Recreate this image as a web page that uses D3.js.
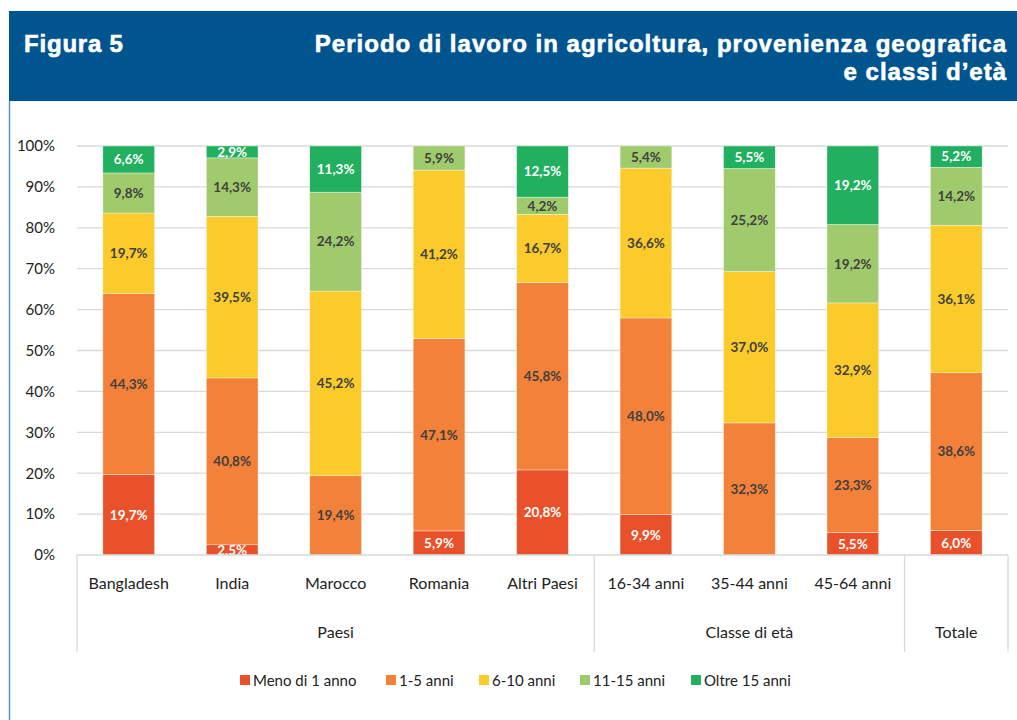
<!DOCTYPE html>
<html>
<head>
<meta charset="utf-8">
<script src="https://cdn.jsdelivr.net/npm/d3@7"></script>
<style>
  body { margin: 0; background: #fff; }
  svg { display: block; }
</style>
</head>
<body>
<div id="chart"></div>
<script>
// Categories and grouping on the x axis
var categories = ["Bangladesh", "India", "Marocco", "Romania", "Altri Paesi",
                  "16-34 anni", "35-44 anni", "45-64 anni", "Totale"];
var groups = [
  {name: "Paesi", from: 0, to: 4},
  {name: "Classe di età", from: 5, to: 7},
  {name: "Totale", from: 8, to: 8}
];
var categoryLabels = ["Bangladesh", "India", "Marocco", "Romania", "Altri Paesi",
                      "16-34 anni", "35-44 anni", "45-64 anni", ""];

// Series (percent values, one per category)
var seriesNames = ["Meno di 1 anno", "1-5 anni", "6-10 anni", "11-15 anni", "Oltre 15 anni"];
var menoDi1 = [19.7, 2.5, 0, 5.9, 20.8, 9.9, 0, 5.5, 6.0];
var anni1_5 = [44.3, 40.8, 19.4, 47.1, 45.8, 48.0, 32.3, 23.3, 38.6];
var anni6_10 = [19.7, 39.5, 45.2, 41.2, 16.7, 36.6, 37.0, 32.9, 36.1];
var anni11_15 = [9.8, 14.3, 24.2, 5.9, 4.2, 5.4, 25.2, 19.2, 14.2];
var oltre15 = [6.6, 2.9, 11.3, 0, 12.5, 0, 5.5, 19.2, 5.2];

var yTicks = [0, 0.1, 0.2, 0.3, 0.4, 0.5, 0.6, 0.7, 0.8, 0.9, 1];

var colors = ["#e8512a", "#f38139", "#fbcb2b", "#a0cb6d", "#21b05f"];
var labelColors = ["#ffffff", "#404040", "#404040", "#404040", "#ffffff"];

// Build table for d3.stack
var seriesValues = [menoDi1, anni1_5, anni6_10, anni11_15, oltre15];
var table = categories.map(function(c, i) {
  var row = {cat: c};
  seriesNames.forEach(function(s, j) { row[s] = seriesValues[j][i]; });
  return row;
});

var W = 1017, H = 720;
var plot = {left: 77, right: 1008, top: 146, bottom: 555};

var svg = d3.select("#chart").append("svg")
    .attr("width", W)
    .attr("height", H);

// Header band
svg.append("rect")
    .attr("x", 9).attr("y", 11)
    .attr("width", W - 9).attr("height", 90)
    .attr("fill", "#00558f");

// Left border line
svg.append("line")
    .attr("x1", 9.5).attr("x2", 9.5)
    .attr("y1", 101).attr("y2", H)
    .attr("stroke", "#5b97c6")
    .attr("stroke-width", 1.5);

var headFont = "'Liberation Sans', Arial, sans-serif";
function headText(t, xPos, yPos, anchor, spacing) {
  svg.append("text")
      .attr("x", xPos).attr("y", yPos)
      .attr("text-anchor", anchor)
      .attr("fill", "#fff")
      .attr("stroke", "#fff")
      .attr("stroke-width", 0.6)
      .attr("font-family", headFont)
      .attr("font-weight", "bold")
      .attr("font-size", 24)
      .attr("letter-spacing", spacing)
      .text(t);
}
headText("Figura 5", 24, 52, "start", 0.8);
headText("Periodo di lavoro in agricoltura, provenienza geografica", 1007, 52, "end", 1.0);
headText("e classi d\u2019età", 1007, 80, "end", 1.0);

// Scales
var x = d3.scaleBand()
    .domain(categories)
    .range([plot.left, plot.right])
    .paddingInner(0.5)
    .paddingOuter(0.25);

var y = d3.scaleLinear()
    .domain([0, 1])
    .range([plot.bottom, plot.top]);

var font = "Lato, 'Open Sans', sans-serif";

// Horizontal grid lines
svg.selectAll("line.horizontalGrid").data(yTicks.slice(1)).enter()
  .append("line")
    .attr("class", "horizontalGrid")
    .attr("x1", plot.left)
    .attr("x2", plot.right)
    .attr("y1", function(d) { return y(d); })
    .attr("y2", function(d) { return y(d); })
    .attr("stroke", "#d9d9d9")
    .attr("stroke-width", 1.3);

// Y axis
var yAxis = svg.append("g")
    .attr("transform", "translate(" + (plot.left - 19) + ",0)")
    .call(d3.axisLeft(y).tickValues(yTicks).tickSize(0).tickFormat(d3.format(".0%")));
yAxis.select(".domain").remove();
yAxis.selectAll("text")
    .attr("font-family", font)
    .attr("font-size", 15)
    .attr("fill", "#222")
    .attr("dx", 0);

// Stacked bars
var stack = d3.stack().keys(seriesNames).offset(d3.stackOffsetExpand);
var layers = stack(table);

var layer = svg.selectAll("g.layer")
    .data(layers)
  .enter().append("g")
    .attr("class", "layer")
    .attr("fill", function(d, i) { return colors[i]; });

layer.selectAll("rect")
    .data(function(d) { return d; })
  .enter().append("rect")
    .attr("x", function(d) { return x(d.data.cat); })
    .attr("width", x.bandwidth())
    .attr("y", function(d) { return y(d[1]); })
    .attr("height", function(d) { return y(d[0]) - y(d[1]); })
    .attr("stroke", "#fff")
    .attr("stroke-opacity", 0.6)
    .attr("stroke-width", 0.6);

// Clip for labels (label of tiny bottom segment is cut by the axis box)
svg.append("clipPath").attr("id", "plotClip")
  .append("rect")
    .attr("x", plot.left).attr("y", plot.top - 10)
    .attr("width", plot.right - plot.left)
    .attr("height", plot.bottom - plot.top + 10);

var labels = svg.append("g").attr("clip-path", "url(#plotClip)");
layers.forEach(function(l, i) {
  labels.selectAll("text.s" + i)
      .data(l.filter(function(d) { return d.data[l.key] > 0; }))
    .enter().append("text")
      .attr("class", "s" + i)
      .attr("x", function(d) { return x(d.data.cat) + x.bandwidth() / 2; })
      .attr("y", function(d) { return (y(d[0]) + y(d[1])) / 2; })
      .attr("dy", "0.36em")
      .attr("text-anchor", "middle")
      .attr("font-family", font)
      .attr("font-weight", "bold")
      .attr("font-size", 13.5)
      .attr("fill", labelColors[i])
      .text(function(d) { return d3.format(".1f")(d.data[l.key]).replace(".", ",") + "%"; });
});

// X axis box
var axisG = svg.append("g").attr("stroke", "#d9d9d9").attr("stroke-width", 1.3);
axisG.append("line")
    .attr("x1", plot.left).attr("x2", plot.right)
    .attr("y1", plot.bottom).attr("y2", plot.bottom);

var step = x.step();
var bandLeft = function(i) { return x(categories[i]) - (step - x.bandwidth()) / 2; };
var seps = [0].concat(groups.map(function(g) { return g.to + 1; }));
axisG.selectAll("line.sep").data(seps).enter()
  .append("line")
    .attr("class", "sep")
    .attr("x1", function(d) { return d < categories.length ? bandLeft(d) : plot.right; })
    .attr("x2", function(d) { return d < categories.length ? bandLeft(d) : plot.right; })
    .attr("y1", plot.bottom)
    .attr("y2", 652);

// Category labels
svg.selectAll("text.cat").data(categories).enter()
  .append("text")
    .attr("class", "cat")
    .attr("x", function(d) { return x(d) + x.bandwidth() / 2; })
    .attr("y", 589)
    .attr("text-anchor", "middle")
    .attr("font-family", font)
    .attr("font-size", 16)
    .attr("fill", "#222")
    .text(function(d, i) { return categoryLabels[i]; });

// Group labels
svg.selectAll("text.grp").data(groups).enter()
  .append("text")
    .attr("class", "grp")
    .attr("x", function(d) {
      var a = x(categories[d.from]), b = x(categories[d.to]) + x.bandwidth();
      return (a + b) / 2;
    })
    .attr("y", 638)
    .attr("text-anchor", "middle")
    .attr("font-family", font)
    .attr("font-size", 16)
    .attr("fill", "#222")
    .text(function(d) { return d.name; });

// Legend
var legendX = [240, 386, 479, 580, 691];
var legend = svg.selectAll("g.legend").data(seriesNames).enter()
  .append("g")
    .attr("class", "legend")
    .attr("transform", function(d, i) { return "translate(" + legendX[i] + ",675)"; });
legend.append("rect")
    .attr("width", 10).attr("height", 10)
    .attr("fill", function(d, i) { return colors[i]; });
legend.append("text")
    .attr("x", 13).attr("y", 11)
    .attr("font-family", font)
    .attr("font-size", 15)
    .attr("fill", "#222")
    .text(function(d) { return d; });
</script>
</body>
</html>
